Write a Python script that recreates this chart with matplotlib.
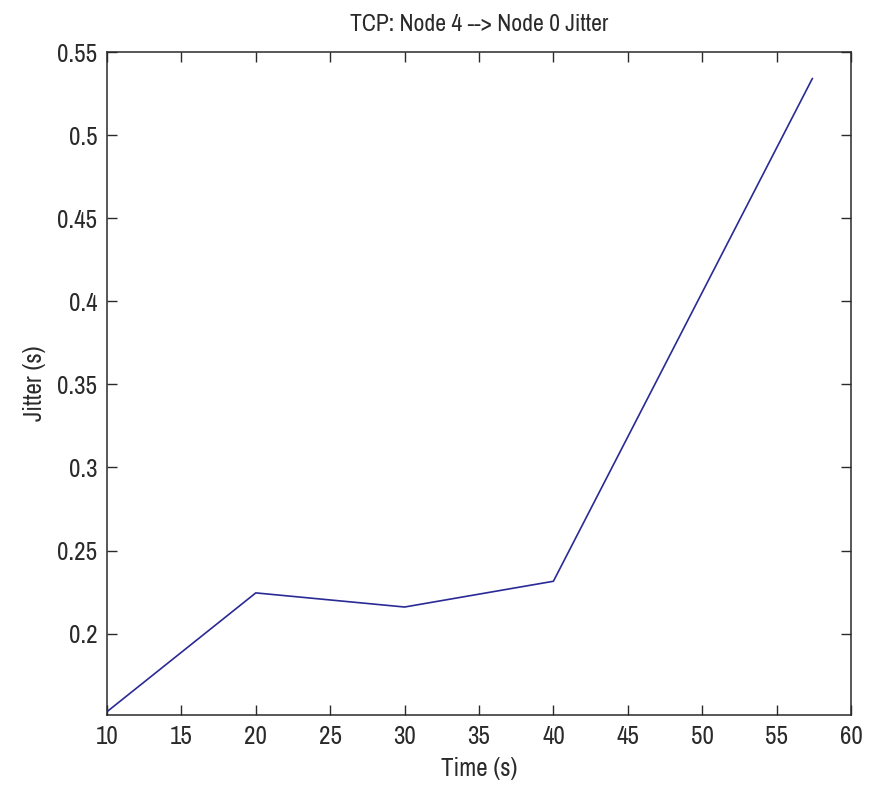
import numpy as np
import matplotlib
matplotlib.use("Agg")
import matplotlib.pyplot as plt

# data
time = [10, 20, 30, 40, 57.4]
jitter = [0.153, 0.2245, 0.216, 0.2315, 0.534]

xticks = [10, 15, 20, 25, 30, 35, 40, 45, 50, 55, 60]
yticks = [0.2, 0.25, 0.3, 0.35, 0.4, 0.45, 0.5, 0.55]
yticklabels = ["0.2", "0.25", "0.3", "0.35", "0.4", "0.45", "0.5", "0.55"]

plt.rcParams['font.family'] = ['Liberation Sans Narrow', 'Archivo Narrow', 'DejaVu Sans']

fig = plt.figure(figsize=(8.74, 7.88), dpi=100)
ax = fig.add_axes([0.1224, 0.0926, 0.8513, 0.8414])

ax.plot(time, jitter, color='#2a2a96', linewidth=1.2)

ax.set_xlim(10, 60)
ax.set_ylim(0.151, 0.55)
ax.set_xticks(xticks)
ax.set_yticks(yticks)
ax.set_yticklabels(yticklabels)
ax.tick_params(direction='in', length=7, width=1, top=True, right=True,
               labelsize=18, colors='#2a2a2a', pad=7)
for s in ax.spines.values():
    s.set_color('#2a2a2a')
    s.set_linewidth(1.1)

ax.set_title('TCP: Node 4 --> Node 0 Jitter', fontsize=17, color='#2a2a2a', pad=15)
ax.set_xlabel('Time (s)', fontsize=18, color='#2a2a2a', labelpad=7)
ax.set_ylabel('Jitter (s)', fontsize=18, color='#2a2a2a', labelpad=8)

fig.savefig('out.png', dpi=100)
